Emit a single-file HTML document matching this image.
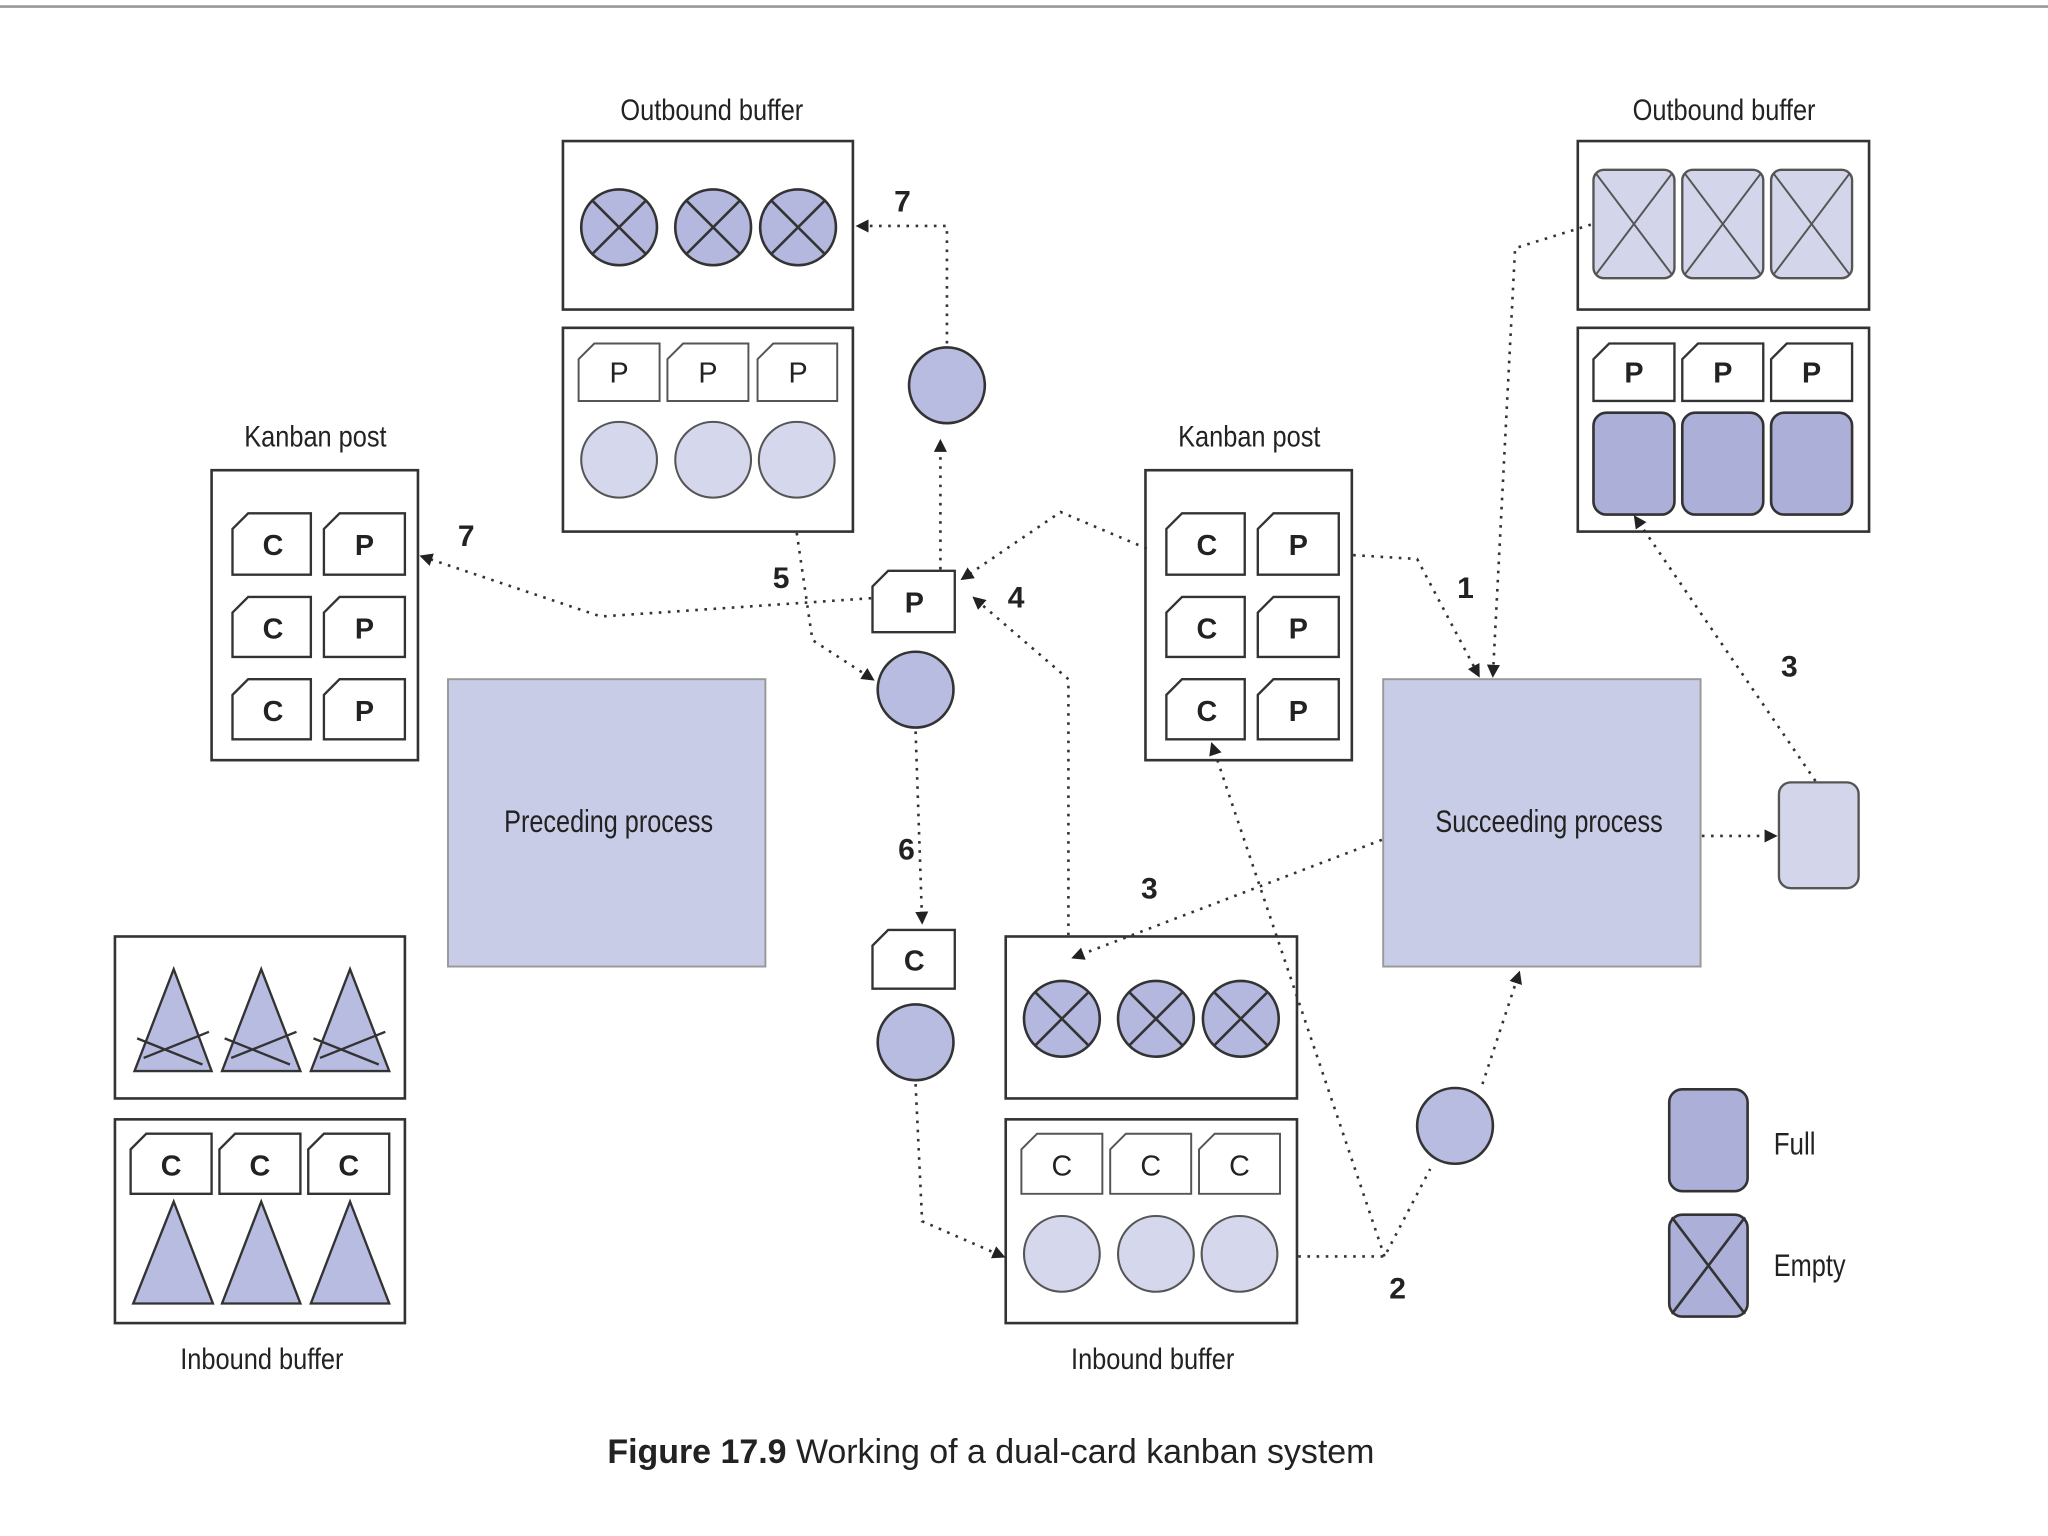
<!DOCTYPE html>
<html><head><meta charset="utf-8"><style>
html,body{margin:0;padding:0;background:#fff;}
svg{display:block}
text{font-family:"Liberation Sans",sans-serif;fill:#222}
</style></head><body>
<svg width="2048" height="1536" viewBox="0 0 1568 1176" xmlns="http://www.w3.org/2000/svg">
<defs>
<marker id="a" markerWidth="10" markerHeight="10" refX="8" refY="5" orient="auto" markerUnits="userSpaceOnUse"><path d="M0,0 L10,5 L0,10 z" fill="#222"/></marker>
<symbol id="xc" viewBox="-31 -31 62 62" overflow="visible"><circle r="29" fill="#b4b8de" stroke="#333" stroke-width="2"/><path d="M-20,-20 L20,20 M20,-20 L-20,20" stroke="#333" stroke-width="2"/></symbol>
<symbol id="lc" viewBox="-31 -31 62 62" overflow="visible"><circle r="29" fill="#d5d7ec" stroke="#555" stroke-width="1.6"/></symbol>
<symbol id="dc" viewBox="-31 -31 62 62" overflow="visible"><circle r="29" fill="#b8bce0" stroke="#333" stroke-width="2"/></symbol>
</defs>
<rect width="1568" height="1176" fill="#fff"/>
<line x1="0" y1="5" x2="1568" y2="5" stroke="#999" stroke-width="2"/>

<g stroke="#333" stroke-width="2" fill="#fff">
<rect x="431" y="108" width="222" height="129"/>
<rect x="431" y="251" width="222" height="156"/>
<rect x="162" y="360" width="158" height="222"/>
<rect x="88" y="717" width="222" height="124"/>
<rect x="88" y="857" width="222" height="156"/>
<rect x="877" y="360" width="158" height="222"/>
<rect x="1208" y="108" width="223" height="129"/>
<rect x="1208" y="251" width="223" height="156"/>
<rect x="770" y="717" width="223" height="124"/>
<rect x="770" y="857" width="223" height="156"/>
</g>

<rect x="343" y="520" width="243" height="220" fill="#c9cce6" stroke="#999" stroke-width="1.5"/>
<text x="386" y="637" font-size="24" textLength="160" lengthAdjust="spacingAndGlyphs" fill="#444">Preceding process</text>
<rect x="1059" y="520" width="243" height="220" fill="#c9cce6" stroke="#999" stroke-width="1.5"/>
<text x="1099" y="637" font-size="24" textLength="174" lengthAdjust="spacingAndGlyphs" fill="#444">Succeeding process</text>

<g font-size="23">
<text x="475" y="92" textLength="140" lengthAdjust="spacingAndGlyphs">Outbound buffer</text>
<text x="1250" y="92" textLength="140" lengthAdjust="spacingAndGlyphs">Outbound buffer</text>
<text x="187" y="342" textLength="109" lengthAdjust="spacingAndGlyphs">Kanban post</text>
<text x="902" y="342" textLength="109" lengthAdjust="spacingAndGlyphs">Kanban post</text>
<text x="138" y="1048" textLength="125" lengthAdjust="spacingAndGlyphs">Inbound buffer</text>
<text x="820" y="1048" textLength="125" lengthAdjust="spacingAndGlyphs">Inbound buffer</text>
</g>

<use href="#xc" x="443" y="143" width="62" height="62"/>
<use href="#xc" x="515" y="143" width="62" height="62"/>
<use href="#xc" x="580" y="143" width="62" height="62"/>
<g fill="#fff" stroke="#555" stroke-width="1.5">
<path d="M455,263 H505 V307 H443 V275 Z"/><path d="M523,263 H573 V307 H511 V275 Z"/><path d="M592,263 H641 V307 H580 V275 Z"/>
</g>
<g font-size="22" text-anchor="middle" fill="#555"><text x="474" y="293">P</text><text x="542" y="293">P</text><text x="611" y="293">P</text></g>
<use href="#lc" x="443" y="321" width="62" height="62"/>
<use href="#lc" x="515" y="321" width="62" height="62"/>
<use href="#lc" x="579" y="321" width="62" height="62"/>

<g fill="#fff" stroke="#333" stroke-width="1.8">
<path d="M190,393 H238 V440 H178 V405 Z"/><path d="M260,393 H310 V440 H248 V405 Z"/>
<path d="M190,457 H238 V503 H178 V469 Z"/><path d="M260,457 H310 V503 H248 V469 Z"/>
<path d="M190,520 H238 V566 H178 V532 Z"/><path d="M260,520 H310 V566 H248 V532 Z"/>
<path d="M905,393 H953 V440 H893 V405 Z"/><path d="M975,393 H1025 V440 H963 V405 Z"/>
<path d="M905,457 H953 V503 H893 V469 Z"/><path d="M975,457 H1025 V503 H963 V469 Z"/>
<path d="M905,520 H953 V566 H893 V532 Z"/><path d="M975,520 H1025 V566 H963 V532 Z"/>
</g>
<g font-size="22" font-weight="bold" text-anchor="middle">
<text x="209" y="425">C</text><text x="279" y="425">P</text>
<text x="209" y="489">C</text><text x="279" y="489">P</text>
<text x="209" y="552">C</text><text x="279" y="552">P</text>
<text x="924" y="425">C</text><text x="994" y="425">P</text>
<text x="924" y="489">C</text><text x="994" y="489">P</text>
<text x="924" y="552">C</text><text x="994" y="552">P</text>
</g>

<g fill="#b8bce0" stroke="#333" stroke-width="1.8">
<path d="M133,742 L162,820 L103,820 Z M110,810 L160,790 M105,795 L155,815"/>
<path d="M200,742 L230,820 L170,820 Z M177,810 L227,790 M172,795 L222,815"/>
<path d="M268,742 L298,820 L238,820 Z M245,810 L295,790 M240,795 L290,815"/>
<path d="M133,920 L163,998 L102,998 Z"/>
<path d="M200,920 L230,998 L170,998 Z"/>
<path d="M268,920 L298,998 L238,998 Z"/>
</g>
<g fill="#fff" stroke="#333" stroke-width="1.8">
<path d="M112,868 H162 V914 H100 V880 Z"/><path d="M180,868 H230 V914 H168 V880 Z"/><path d="M248,868 H298 V914 H236 V880 Z"/>
</g>
<g font-size="22" font-weight="bold" text-anchor="middle"><text x="131" y="900">C</text><text x="199" y="900">C</text><text x="267" y="900">C</text></g>

<g fill="#d3d5ea" stroke="#555" stroke-width="1.8">
<rect x="1220" y="130" width="62" height="83" rx="8"/><rect x="1288" y="130" width="62" height="83" rx="8"/><rect x="1356" y="130" width="62" height="83" rx="8"/>
</g>
<g stroke="#555" stroke-width="1.5"><path d="M1222,133 L1280,210 M1280,133 L1222,210 M1290,133 L1348,210 M1348,133 L1290,210 M1358,133 L1416,210 M1416,133 L1358,210"/></g>
<g fill="#fff" stroke="#333" stroke-width="1.8">
<path d="M1232,263 H1282 V307 H1220 V275 Z"/><path d="M1300,263 H1350 V307 H1288 V275 Z"/><path d="M1368,263 H1418 V307 H1356 V275 Z"/>
</g>
<g font-size="22" font-weight="bold" text-anchor="middle"><text x="1251" y="293">P</text><text x="1319" y="293">P</text><text x="1387" y="293">P</text></g>
<g fill="#acb0d8" stroke="#333" stroke-width="2">
<rect x="1220" y="316" width="62" height="78" rx="10"/><rect x="1288" y="316" width="62" height="78" rx="10"/><rect x="1356" y="316" width="62" height="78" rx="10"/>
</g>

<use href="#xc" x="782" y="749" width="62" height="62"/>
<use href="#xc" x="854" y="749" width="62" height="62"/>
<use href="#xc" x="919" y="749" width="62" height="62"/>
<g fill="#fff" stroke="#555" stroke-width="1.5">
<path d="M794,868 H844 V914 H782 V880 Z"/><path d="M862,868 H912 V914 H850 V880 Z"/><path d="M930,868 H980 V914 H918 V880 Z"/>
</g>
<g font-size="22" text-anchor="middle" fill="#555"><text x="813" y="900">C</text><text x="881" y="900">C</text><text x="949" y="900">C</text></g>
<use href="#lc" x="782" y="929" width="62" height="62"/>
<use href="#lc" x="854" y="929" width="62" height="62"/>
<use href="#lc" x="918" y="929" width="62" height="62"/>

<use href="#dc" x="694" y="264" width="62" height="62"/>
<g fill="#fff" stroke="#333" stroke-width="1.8">
<path d="M680,437 H731 V484 H668 V449 Z"/>
<path d="M680,712 H731 V757 H668 V724 Z"/>
</g>
<g font-size="22" font-weight="bold" text-anchor="middle"><text x="700" y="469">P</text><text x="700" y="743">C</text></g>
<use href="#dc" x="670" y="497" width="62" height="62"/>
<use href="#dc" x="670" y="767" width="62" height="62"/>
<use href="#dc" x="1083" y="831" width="62" height="62"/>
<rect x="1362" y="599" width="61" height="81" rx="9" fill="#d3d5ea" stroke="#555" stroke-width="1.8"/>

<g fill="none" stroke="#333" stroke-width="2" stroke-dasharray="2,5">
<path d="M725,263 V173 H657" marker-end="url(#a)"/>
<path d="M720,436 V338" marker-end="url(#a)"/>
<path d="M667,458 L460,472 L323,426" marker-end="url(#a)"/>
<path d="M610,408 L622,490 L668,520" marker-end="url(#a)"/>
<path d="M878,420 L812,392 L737,443" marker-end="url(#a)"/>
<path d="M818,716 V520 L746,458" marker-end="url(#a)"/>
<path d="M701,560 L706,706" marker-end="url(#a)"/>
<path d="M701,830 L706,935 L768,962" marker-end="url(#a)"/>
<path d="M1036,425 L1085,428 L1132,517" marker-end="url(#a)"/>
<path d="M1218,172 L1160,190 L1143,517" marker-end="url(#a)"/>
<path d="M1058,643 L822,733" marker-end="url(#a)"/>
<path d="M994,962 H1060 L1095,895"/>
<path d="M1135,830 L1163,745" marker-end="url(#a)"/>
<path d="M1060,962 L928,570" marker-end="url(#a)"/>
<path d="M1390,598 L1252,396" marker-end="url(#a)"/>
<path d="M1303,640 H1359" marker-end="url(#a)"/>
</g>

<g font-size="23" font-weight="bold" text-anchor="middle">
<text x="691" y="162">7</text>
<text x="357" y="418">7</text>
<text x="598" y="450">5</text>
<text x="778" y="465">4</text>
<text x="1122" y="458">1</text>
<text x="1370" y="518">3</text>
<text x="694" y="658">6</text>
<text x="880" y="688">3</text>
<text x="1070" y="994">2</text>
</g>

<rect x="1278" y="834" width="60" height="78" rx="10" fill="#acb0d8" stroke="#333" stroke-width="2"/>
<rect x="1278" y="930" width="60" height="78" rx="10" fill="#acb0d8" stroke="#333" stroke-width="2"/>
<path d="M1280,932 L1336,1006 M1336,932 L1280,1006" stroke="#333" stroke-width="2"/>
<text x="1358" y="884" font-size="24" textLength="32" lengthAdjust="spacingAndGlyphs">Full</text>
<text x="1358" y="977" font-size="24" textLength="55" lengthAdjust="spacingAndGlyphs">Empty</text>

<text x="465" y="1120" font-size="26" fill="#333"><tspan font-weight="bold">Figure 17.9</tspan>   Working of a dual-card kanban system</text>
</svg>
</body></html>
